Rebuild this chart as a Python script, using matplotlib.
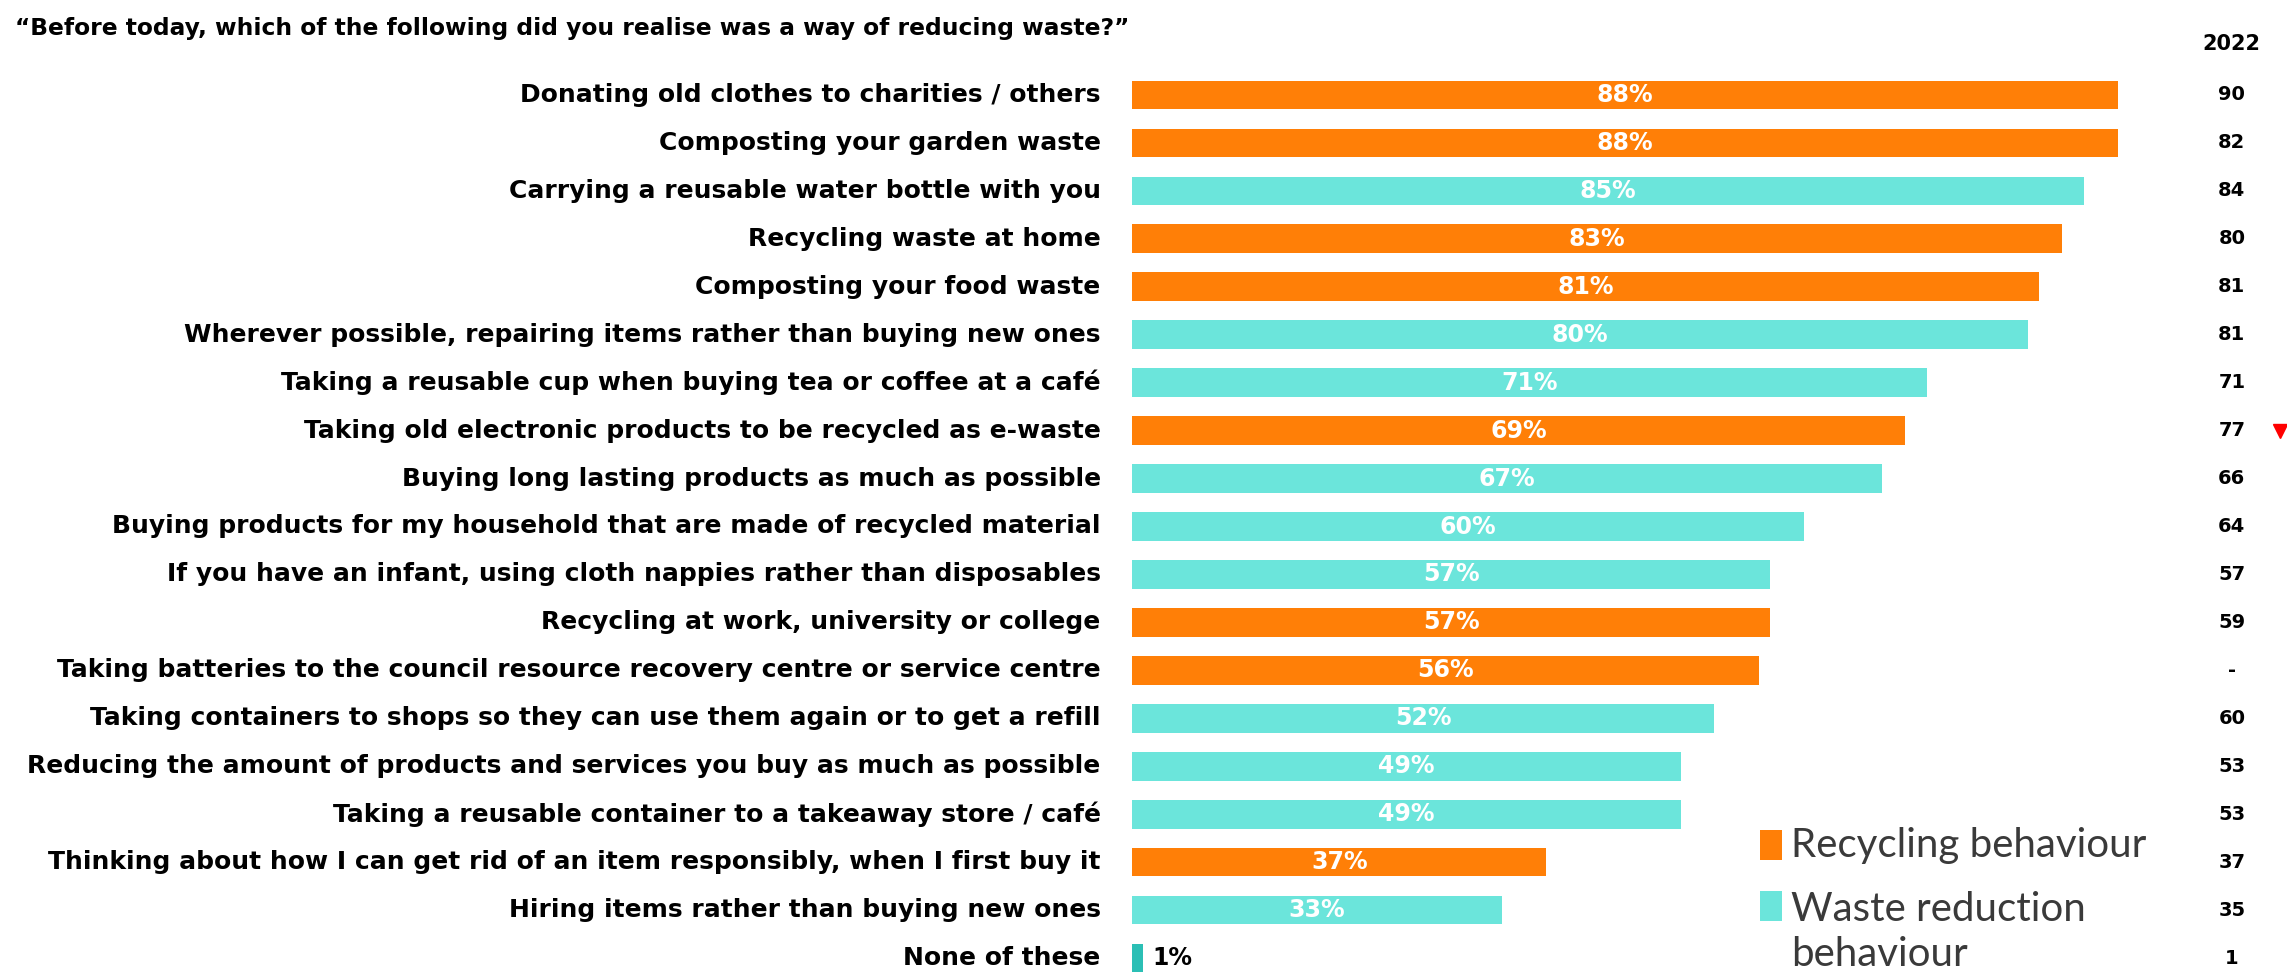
import matplotlib.pyplot as plt
import matplotlib.patches as patches
import numpy as np

# data
labels = [
    "Donating old clothes to charities / others",
    "Composting your garden waste",
    "Carrying a reusable water bottle with you",
    "Recycling waste at home",
    "Composting your food waste",
    "Wherever possible, repairing items rather than buying new ones",
    "Taking a reusable cup when buying tea or coffee at a café",
    "Taking old electronic products to be recycled as e-waste",
    "Buying long lasting products as much as possible",
    "Buying products for my household that are made of recycled material",
    "If you have an infant, using cloth nappies rather than disposables",
    "Recycling at work, university or college",
    "Taking batteries to the council resource recovery centre or service centre",
    "Taking containers to shops so they can use them again or to get a refill",
    "Reducing the amount of products and services you buy as much as possible",
    "Taking a reusable container to a takeaway store / café",
    "Thinking about how I can get rid of an item responsibly, when I first buy it",
    "Hiring items rather than buying new ones",
    "None of these",
]
values = [88, 88, 85, 83, 81, 80, 71, 69, 67, 60, 57, 57, 56, 52, 49, 49, 37, 33, 1]
types = ["R", "R", "W", "R", "R", "W", "W", "R", "W", "W", "W", "R", "R", "W", "W", "W", "R", "W", "N"]
values_2022 = ["90", "82", "84", "80", "81", "81", "71", "77", "66", "64", "57", "59", "-", "60", "53", "53", "37", "35", "1"]
sig_down = [7]  # rows with a significant decrease vs 2022

ORANGE = "#FF7F07"
TEAL = "#6BE5DB"
DARK_TEAL = "#2BBFB5"
colors = {"R": ORANGE, "W": TEAL, "N": DARK_TEAL}

W, H = 2287, 972
fig = plt.figure(figsize=(W / 100, H / 100), dpi=100)

# axes: x 0..100 maps to px 1132..2252, rows 0..18 map to px 95..958
step = (958 - 95) / 18
ax = fig.add_axes([1132 / W, 0, 1120 / W, 1])
ax.set_xlim(0, 100)
ax.set_ylim(18 + (H - 958) / step, -95 / step)
ax.axis("off")

y = np.arange(len(labels))
bar_colors = [colors[t] for t in types]
ax.barh(y, values, height=0.6, color=bar_colors, edgecolor="none")

for i, (lab, v, t) in enumerate(zip(labels, values, types)):
    ax.text(-2.8, i, lab, ha="right", va="center", fontsize=18,
            fontweight="bold", color="black")
    if v >= 10:
        ax.text(v / 2, i, f"{v}%", ha="center", va="center", fontsize=17,
                fontweight="bold", color="white")
    else:
        ax.text(v + 0.8, i, f"{v}%", ha="left", va="center", fontsize=17,
                fontweight="bold", color="black")
    ax.text(98.2, i, values_2022[i], ha="center", va="center", fontsize=14,
            fontweight="bold", color="black", clip_on=False)

for i in sig_down:
    ax.plot(102.5, i, marker="v", color="red", markersize=10, clip_on=False)

ax.text(98.2, -95 / step + 44 / step, "2022", ha="center", va="center",
        fontsize=15, fontweight="bold", color="black", clip_on=False)

fig.text(15 / W, 1 - 29 / H,
         "\u201cBefore today, which of the following did you realise was a way of reducing waste?\u201d",
         ha="left", va="center", fontsize=16.8, fontweight="bold", color="black")

# legend
leg_items = [(ORANGE, "Recycling behaviour", 845, 845), (TEAL, "Waste reduction\nbehaviour", 906, 932)]
for col, txt, ysq, ytxt in leg_items:
    fig.patches.append(patches.Rectangle((1760 / W, 1 - (ysq + 15) / H), 22 / W, 30 / H,
                                         transform=fig.transFigure, facecolor=col,
                                         edgecolor="none"))
    fig.text(1791 / W, 1 - ytxt / H, txt, ha="left", va="center",
             fontsize=29, family="Lato", fontweight="normal", color="#3a3a3a",
             linespacing=1.28)

fig.savefig("out.png", dpi=100)
